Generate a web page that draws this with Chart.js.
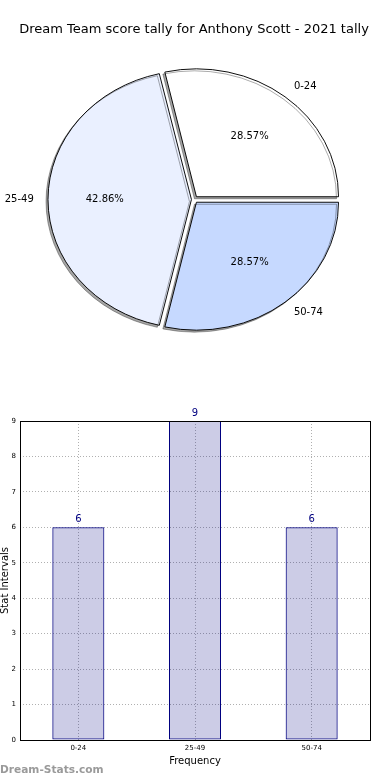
<!DOCTYPE html>
<html>
<head>
<meta charset="utf-8">
<script src="https://cdn.jsdelivr.net/npm/chart.js@4/dist/chart.umd.min.js"></script>
<style>
  html, body { margin: 0; padding: 0; background: #fff; }
  #wrap { position: relative; width: 390px; height: 780px; overflow: hidden; }
  #pie { position: absolute; left: 0; top: 0; }
  #bar { position: absolute; left: 0; top: 380px; }
  #mark {
    position: absolute; left: 0; top: 763px;
    font: bold 10.6px 'DejaVu Sans', sans-serif; color: #9a9a9a;
  }
</style>
</head>
<body>
<div id="wrap">
  <canvas id="pie" width="390" height="380"></canvas>
  <canvas id="bar" width="390" height="400"></canvas>
  <div id="mark">Dream-Stats.com</div>
</div>
<script>
// data
const titleText = 'Dream Team score tally for Anthony Scott - 2021 tally';
const categories = ['0-24', '25-49', '50-74'];
const tallies = [6, 9, 6];
const sliceColors = ['#ffffff', '#eaf0ff', '#c6d9ff'];
const yTicksMax = 9;

const FONT = "'DejaVu Sans', sans-serif";
const EXPLODE = 4;      // px pushed out from the centre
const SQUASH = 0.9;     // the pie is drawn as an ellipse
const total = tallies.reduce((a, b) => a + b, 0);

// Chart.js goes clockwise, matplotlib counter-clockwise, so flip the order
const pieLabels = categories.slice().reverse();
const pieValues = tallies.slice().reverse();
const pieColors = sliceColors.slice().reverse();

const ellipsePlugin = {
  id: 'ellipse',
  beforeDatasetsDraw(chart) {
    const arc = chart.getDatasetMeta(0).data[0];
    const ctx = chart.ctx;
    ctx.save();
    ctx.translate(arc.x, arc.y);
    ctx.scale(1, SQUASH);
    ctx.translate(-arc.x, -arc.y);
    ctx.shadowColor = 'rgba(0,0,0,0.35)';
    ctx.shadowOffsetX = -2;
    ctx.shadowOffsetY = 2;
    ctx.shadowBlur = 0;
  },
  afterDatasetsDraw(chart) {
    const ctx = chart.ctx;
    ctx.restore();
    const meta = chart.getDatasetMeta(0);
    ctx.save();
    ctx.font = '10px ' + FONT;
    ctx.fillStyle = '#000';
    meta.data.forEach((arc, i) => {
      const mid = (arc.startAngle + arc.endAngle) / 2;
      const c = Math.cos(mid), s = Math.sin(mid);
      const r = arc.outerRadius;
      const px = (d) => arc.x + c * (d * r + EXPLODE);
      const py = (d) => arc.y + s * (d * r + EXPLODE) * SQUASH;
      // percentage inside
      ctx.textAlign = 'center';
      ctx.textBaseline = 'middle';
      const pct = (pieValues[i] / total * 100).toFixed(2) + '%';
      ctx.fillText(pct, px(0.6), py(0.6));
      // category outside
      ctx.textAlign = c > 0 ? 'left' : 'right';
      ctx.fillText(pieLabels[i], px(1.1), py(1.1));
    });
    ctx.restore();
  }
};

new Chart(document.getElementById('pie'), {
  type: 'pie',
  data: {
    labels: pieLabels,
    datasets: [{
      data: pieValues,
      backgroundColor: pieColors,
      borderColor: '#000',
      borderWidth: 1,
      borderJoinStyle: 'miter',
      clip: false,
      offset: (ctx) => {
        // Chart.js scales the offset with the slice angle; undo that so all slices move equally
        const circ = ctx.raw / total * Math.PI * 2;
        const fix = 1 - Math.sin(Math.min(Math.PI, circ));
        return EXPLODE * 4 / (1 + fix);
      }
    }]
  },
  options: {
    responsive: false,
    animation: false,
    devicePixelRatio: 1,
    rotation: 90,
    radius: 142,
    layout: { padding: { left: 0, right: 2, top: 0, bottom: 38.6 } },
    plugins: {
      legend: { display: false },
      tooltip: { enabled: false },
      title: {
        display: true,
        text: titleText,
        color: '#000',
        font: { family: FONT, size: 13, weight: 'normal' },
        padding: { top: 22, bottom: 20 }
      }
    }
  },
  plugins: [ellipsePlugin]
});

const barExtras = {
  id: 'barExtras',
  afterDatasetsDraw(chart) {
    const ctx = chart.ctx;
    const area = chart.chartArea;
    ctx.save();
    ctx.strokeStyle = '#000';
    ctx.lineWidth = 1;
    ctx.strokeRect(area.left + 0.5, area.top + 0.5, area.right - area.left, area.bottom - area.top);
    ctx.font = '10px ' + FONT;
    ctx.fillStyle = '#000080';
    ctx.textAlign = 'center';
    ctx.textBaseline = 'alphabetic';
    chart.getDatasetMeta(0).data.forEach((bar, i) => {
      ctx.fillText(String(tallies[i]), bar.x, bar.y - 5);
    });
    ctx.restore();
  }
};

new Chart(document.getElementById('bar'), {
  type: 'bar',
  data: {
    labels: categories,
    datasets: [{
      data: tallies,
      backgroundColor: 'rgba(0,0,128,0.2)',
      borderColor: '#000080',
      borderWidth: 1,
      borderSkipped: false,
      barPercentage: 0.446,
      categoryPercentage: 1
    }]
  },
  options: {
    responsive: false,
    animation: false,
    devicePixelRatio: 1,
    layout: { padding: { left: 0, right: 20, top: 41, bottom: 0 } },
    plugins: {
      legend: { display: false },
      tooltip: { enabled: false }
    },
    scales: {
      x: {
        afterFit: (s) => { s.height = 40; },
        grid: { offset: false, color: '#b0b0b0', lineWidth: 1, drawTicks: false },
        border: { display: false, dash: [1, 2] },
        ticks: { color: '#000', font: { family: FONT, size: 7 }, padding: 4 },
        title: {
          display: true, text: 'Frequency', color: '#000',
          font: { family: FONT, size: 10 }, padding: { top: 0, bottom: 13 }
        }
      },
      y: {
        min: 0,
        max: yTicksMax,
        afterFit: (s) => { s.width = 20; },
        grid: { color: '#b0b0b0', lineWidth: 1, drawTicks: false },
        border: { display: false, dash: [1, 2] },
        ticks: { stepSize: 1, color: '#000', font: { family: FONT, size: 7 }, padding: 4 },
        title: {
          display: true, text: 'Stat Intervals', color: '#000',
          font: { family: FONT, size: 10, lineHeight: 1 }, padding: { top: 0, bottom: 0 }
        }
      }
    }
  },
  plugins: [barExtras]
});
</script>
</body>
</html>
